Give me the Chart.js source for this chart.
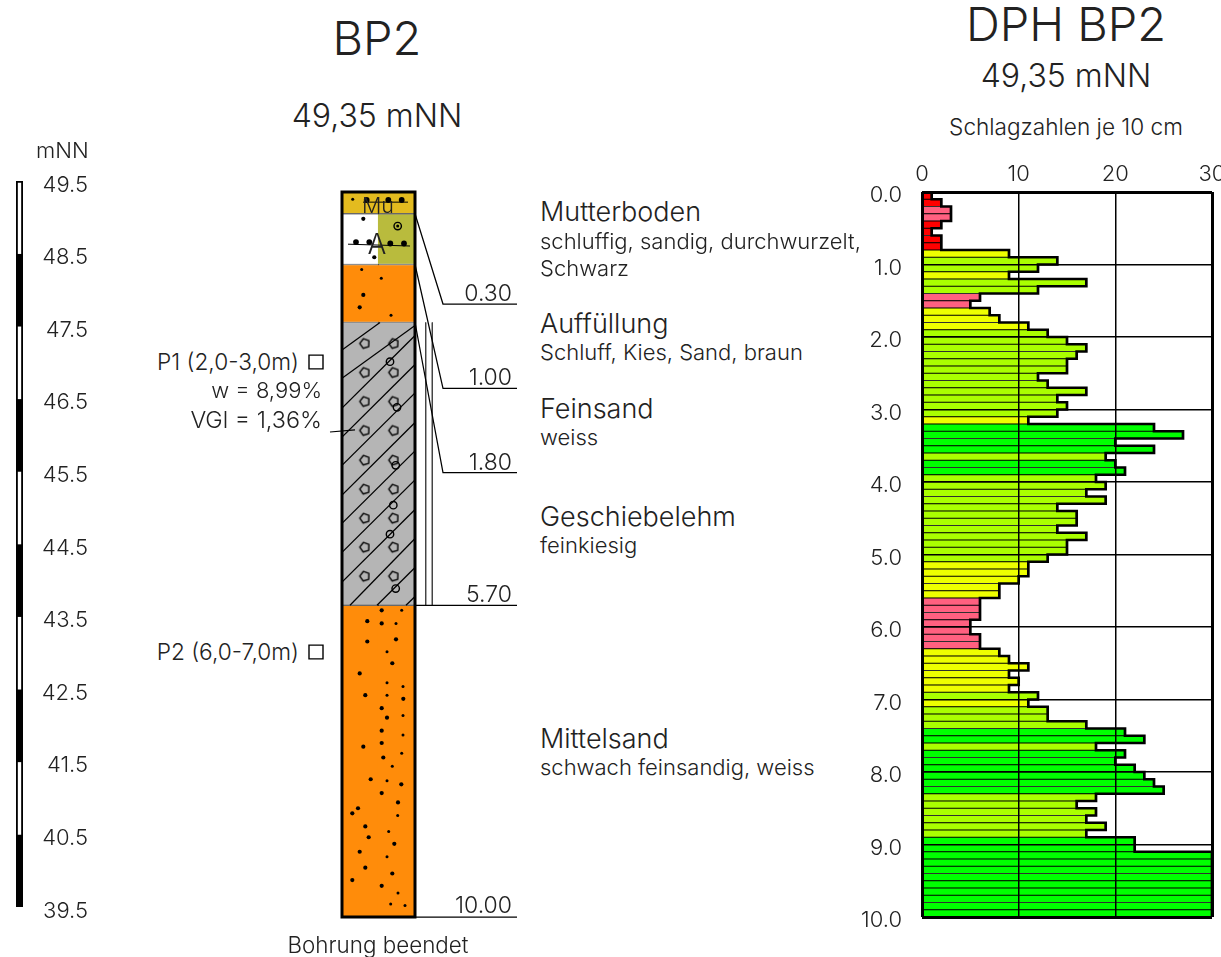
<!DOCTYPE html>
<html>
<head>
<meta charset="utf-8">
<title>BP2</title>
<script src="https://cdn.jsdelivr.net/npm/chart.js@4/dist/chart.umd.min.js"></script>
<style>
	html, body { margin: 0; padding: 0; background: #fff; overflow: hidden; width: 1221px; height: 957px; }
	canvas { position: absolute; }
	.t { position: absolute; white-space: nowrap; line-height: 1; transform: translateY(-50%); font-family: Inter, "Liberation Sans", sans-serif; font-weight: 300; color: #222; }
	.c { transform: translate(-50%, -50%); }
	.r { transform: translate(-100%, -50%); }
	.big { font-size: 27px; }
	.small { font-size: 22px; }
	.num { font-size: 23px; }
	.sub { font-size: 32px; }
	.head { font-size: 47px; }
</style>
</head>
<body>
<canvas id="ruler" width="120" height="780" style="left:0;top:160px"></canvas>
<canvas id="column" width="240" height="770" style="left:300px;top:170px"></canvas>
<canvas id="dph" width="420" height="800" style="left:820px;top:150px"></canvas>

<div class="t c head" style="left:377px;top:37px">BP2</div>
<div class="t c sub" style="left:377px;top:116px">49,35 mNN</div>
<div class="t small" style="left:36px;top:150px">mNN</div>
<div class="t c small" style="left:378px;top:945px;font-size:22.4px">Bohrung beendet</div>

<div class="t c small" style="left:378px;top:206px;font-size:21.5px">Mu</div>
<div class="t c small" style="left:377px;top:244px;font-size:28px">A</div>

<div class="t r small" style="left:299px;top:362px;font-size:22.7px">P1 (2,0-3,0m)</div>
<div class="t r small" style="left:322px;top:390px">w = 8,99%</div>
<div class="t r small" style="left:322px;top:420px;font-size:23.4px">VGl = 1,36%</div>
<div class="t r small" style="left:299px;top:652px;font-size:22.7px">P2 (6,0-7,0m)</div>

<div class="t r num" style="left:512px;top:293px">0.30</div>
<div class="t r num" style="left:512px;top:377px">1.00</div>
<div class="t r num" style="left:512px;top:462px">1.80</div>
<div class="t r num" style="left:512px;top:594px">5.70</div>
<div class="t r num" style="left:512px;top:905px">10.00</div>

<div class="t big" style="left:540px;top:211px">Mutterboden</div>
<div class="t small" style="left:540px;top:241px">schluffig, sandig, durchwurzelt,</div>
<div class="t small" style="left:540px;top:268px">Schwarz</div>
<div class="t big" style="left:540px;top:323px">Auffüllung</div>
<div class="t small" style="left:540px;top:352px">Schluff, Kies, Sand, braun</div>
<div class="t big" style="left:540px;top:408px">Feinsand</div>
<div class="t small" style="left:540px;top:437px">weiss</div>
<div class="t big" style="left:540px;top:516px">Geschiebelehm</div>
<div class="t small" style="left:540px;top:545px">feinkiesig</div>
<div class="t big" style="left:540px;top:738px">Mittelsand</div>
<div class="t small" style="left:540px;top:767px">schwach feinsandig, weiss</div>

<div class="t c head" style="left:1066px;top:23px">DPH BP2</div>
<div class="t c sub" style="left:1066px;top:76px">49,35 mNN</div>
<div class="t c small" style="left:1066px;top:127px;font-size:22.6px">Schlagzahlen je 10 cm</div>

<script>
// ---- data ----
const blowCounts = [
	1, 2, 3, 3, 2, 1, 2, 2, 9, 14,
	12, 9, 17, 12, 6, 5, 7, 8, 11, 13,
	15, 17, 16, 15, 15, 12, 13, 17, 14, 15,
	14, 11, 24, 27, 20, 24, 19, 20, 21, 18,
	19, 17, 19, 14, 16, 16, 14, 17, 15, 15,
	13, 11, 11, 10, 8, 8, 6, 6, 6, 5,
	5, 6, 6, 8, 9, 11, 9, 10, 9, 12,
	11, 13, 13, 17, 21, 23, 18, 21, 20, 22,
	23, 24, 25, 18, 16, 18, 17, 19, 17, 22,
	22, 30, 30, 30, 30, 30, 30, 30, 30, 30
];
const blowTicks = [0, 10, 20, 30];
const depthTicks = [0, 1, 2, 3, 4, 5, 6, 7, 8, 9, 10];

const elevationTicks = [49.5, 48.5, 47.5, 46.5, 45.5, 44.5, 43.5, 42.5, 41.5, 40.5, 39.5];

const strataDepths = [0, 0.3, 1, 1.8, 5.7, 10];
const leaderEnds = [1.545, 2.708, 3.87, 5.7, 10];

// column points: [position across the column, depth in m]
const pebbleColumns = [22.7, 51.7];
const pebbleDepths = [2.09, 2.49, 2.89, 3.29, 3.70, 4.10, 4.50, 4.90, 5.30];
const openCircles = [[48, 2.34], [55, 2.97], [53.7, 3.77], [51.3, 4.32], [48, 4.72], [53.7, 5.47], [55.7, 0.47]];
const hatchLines = [
	[[0, 2.18], [38, 1.8]], [[0, 2.57], [77, 1.8]], [[0, 2.98], [73, 1.98]], [[0, 3.38], [73, 2.38]],
	[[0, 3.77], [73, 2.77]], [[0, 4.18], [73, 3.18]], [[0, 4.57], [73, 3.57]], [[0, 4.97], [73, 3.97]],
	[[0, 5.38], [73, 4.38]], [[8, 5.7], [73, 4.78]], [[35, 5.7], [73, 5.18]], [[64, 5.7], [73, 5.58]]
];
const bigDots = [
	[46.3, 0.11], [59.7, 0.11], [24.7, 0.11],
	[14, 0.69], [27.3, 0.69], [48.3, 0.71], [62, 0.71]
];
const mediumDots = [
	[21.3, 0.37], [32.3, 0.90], [21.3, 1.42], [17.7, 1.59],
	[39.7, 5.77], [25.3, 5.92], [39.7, 5.95], [25.3, 6.20], [54, 6.17], [50.3, 6.50], [17.7, 6.64],
	[23.3, 6.94], [61.3, 6.99], [39.7, 7.12], [45, 7.25], [39.7, 7.43], [39.7, 7.60], [21.3, 7.65],
	[41.3, 7.80], [28.7, 8.10], [59.3, 8.17], [39.7, 8.29], [56, 8.42], [16, 8.50], [10.3, 8.57],
	[23.3, 8.75], [26.7, 8.90], [52.3, 8.99], [17.7, 9.10], [23.3, 9.32], [50.3, 9.40], [10.3, 9.49], [39.7, 9.57]
];
const smallDots = [
	[10.7, 0.10], [19.7, 1.07], [39.3, 1.19], [49, 1.70], [55.7, 0.47],
	[59.7, 5.77], [54, 5.95], [45, 6.34], [45, 6.77], [61, 6.82], [45, 6.94], [61, 7.22], [61, 7.49],
	[59.7, 7.74], [50.3, 7.92], [45, 8.12], [55.7, 8.60], [46.7, 8.82], [45, 9.17], [56, 9.67], [48.7, 9.82], [63, 9.84]
];
const rootLines = [[[21, 0.14], [66, 0.14]], [[6, 0.72], [68, 0.745]]];
// sample markers left of the column, drawn as closed outlines: points outside the chart area are skipped
const sampleBoxes = [
	[[-33, 2.25], [-19, 2.25], [-19, 2.44], [-33, 2.44], [-33, 2.25], [-19, 2.25]],
	[[-33, 6.25], [-19, 6.25], [-19, 6.44], [-33, 6.44], [-33, 6.25], [-19, 6.25]]
];

const FONT = 'Inter, "Liberation Sans", sans-serif';
const INK = '#222';

// Chart.js centres tick labels on the tick; here they sit a few px lower
const lowLabels = (scaleId, ticks, text, right, dy, size) => ({
	id: 'lowLabels',
	afterDraw(chart) {
		const { ctx } = chart;
		const scale = chart.scales[scaleId];
		ctx.save();
		ctx.font = '300 ' + size + 'px ' + FONT;
		ctx.fillStyle = INK;
		ctx.textAlign = 'right';
		ctx.textBaseline = 'middle';
		ticks.forEach(v => ctx.fillText(text(v), right, scale.getPixelForValue(v) + dy));
		ctx.restore();
	}
});

// ---- elevation ruler ----
(() => {
	const segments = elevationTicks.slice(0, -1).map((top, i) => ({
		data: [[elevationTicks[i + 1], top]],
		backgroundColor: i % 2 ? '#000' : '#fff',
		borderWidth: 0,
		order: 2
	}));
	new Chart(document.getElementById('ruler'), {
		type: 'bar',
		data: {
			labels: ['mNN'],
			datasets: [...segments, {
				data: [[39.5, 49.5]],
				backgroundColor: 'rgba(0,0,0,0)',
				borderColor: '#000',
				borderWidth: 1.5,
				borderSkipped: false,
				order: 1
			}]
		},
		options: {
			responsive: false,
			animation: false,
			layout: { padding: { left: 16, right: 97, top: 21, bottom: 33 } },
			datasets: { bar: { grouped: false, categoryPercentage: 1, barPercentage: 1 } },
			plugins: { legend: { display: false }, tooltip: { enabled: false } },
			scales: {
				x: { display: false },
				y: { display: false, min: 39.5, max: 49.5 }
			}
		},
		plugins: [lowLabels('y', elevationTicks, v => v.toFixed(1), 88, 4, 22)]
	});
})();

// ---- borehole column ----
(() => {
	const strataFill = [
		['#e3bb1f', '#e3bb1f'],
		['#ffffff', '#b9bb3d'],
		['#ff8c0a', '#ff8c0a'],
		['#b5b5b5', '#b5b5b5'],
		['#ff8c0a', '#ff8c0a']
	];
	const strata = strataFill.map((fill, i) => ({
		xAxisID: 'xCat',
		data: [[strataDepths[i], strataDepths[i + 1]], [strataDepths[i], strataDepths[i + 1]]],
		backgroundColor: fill,
		borderColor: '#000',
		borderWidth: { top: 0.7, bottom: 0.7, left: 0, right: 0 },
		borderSkipped: false,
		order: 9
	}));

	const asPoints = list => list.map(p => ({ x: p[0], y: p[1] }));
	const line = (points, width, color) => ({
		type: 'scatter',
		xAxisID: 'xCol',
		data: asPoints(points),
		showLine: true,
		pointRadius: 0,
		borderColor: color || '#000',
		borderWidth: width,
		clip: false,
		order: 4
	});
	const dots = (points, radius) => ({
		type: 'scatter',
		xAxisID: 'xCol',
		data: asPoints(points),
		pointRadius: radius,
		pointBackgroundColor: '#000',
		pointBorderWidth: 0,
		clip: false,
		order: 3
	});

	// small outlined pentagon used as the gravel symbol
	const pebble = document.createElement('canvas');
	pebble.width = pebble.height = 14;
	const p = pebble.getContext('2d');
	p.strokeStyle = '#000';
	p.lineWidth = 1.4;
	p.lineJoin = 'round';
	p.beginPath();
	for (let i = 0; i < 5; i++) {
		const a = -0.6 + i * Math.PI * 2 / 5;
		p[i ? 'lineTo' : 'moveTo'](7 + 5 * Math.cos(a), 7 + 5 * Math.sin(a));
	}
	p.closePath();
	p.stroke();

	const pebblePoints = [];
	pebbleDepths.forEach(d => pebbleColumns.forEach(x => pebblePoints.push([x, d])));

	// right to left, so the points beyond the scale are not trimmed
	const leaders = [
		[[175, leaderEnds[0]], [101, leaderEnds[0]], [73, strataDepths[1]]],
		[[175, leaderEnds[1]], [101, leaderEnds[1]], [73, strataDepths[2]]],
		[[175, leaderEnds[2]], [101, leaderEnds[2]], [73, strataDepths[3]]],
		[[73, leaderEnds[3]], [175, leaderEnds[3]]],
		[[73, leaderEnds[4]], [175, leaderEnds[4]]]
	];

	new Chart(document.getElementById('column'), {
		type: 'bar',
		data: {
			labels: ['links', 'rechts'],
			datasets: [
				{ ...line([[0, 0], [73, 0], [73, 10], [0, 10], [0, 0], [73, 0]], 3), order: 0 },
				...strata,
				...hatchLines.map(l => ({ ...line(l, 1.25), clip: true, order: 6 })),
				...rootLines.map(l => line(l, 1)),
				...leaders.map(l => line(l, 1.25)),
				...sampleBoxes.map(l => line(l, 1.4)),
				line([[83.7, 1.8], [83.7, 5.7]], 1, '#444'),
				line([[90.3, 1.8], [90.3, 5.7]], 1, '#444'),
				line([[-12, 3.31], [13, 3.28]], 1.2),
				{
					type: 'scatter',
					xAxisID: 'xCol',
					data: asPoints(pebblePoints),
					pointStyle: pebble,
					order: 5
				},
				{
					type: 'scatter',
					xAxisID: 'xCol',
					data: asPoints(openCircles),
					pointRadius: 3.7,
					pointBackgroundColor: 'rgba(0,0,0,0)',
					pointBorderColor: '#000',
					pointBorderWidth: 1.4,
					order: 3
				},
				dots(bigDots, 2.9),
				dots(mediumDots, 2.1),
				dots(smallDots, 1.5)
			]
		},
		options: {
			responsive: false,
			animation: false,
			layout: { padding: { left: 42, right: 125, top: 22, bottom: 23 } },
			datasets: { bar: { grouped: false, categoryPercentage: 1, barPercentage: 1.04 } },
			plugins: { legend: { display: false }, tooltip: { enabled: false } },
			scales: {
				xCat: { type: 'category', axis: 'x', display: false },
				xCol: { type: 'linear', axis: 'x', display: false, offset: false, min: 0, max: 73 },
				y: { display: false, reverse: true, offset: false, min: 0, max: 10 }
			}
		}
	});
})();

// ---- DPH blow count profile ----
(() => {
	const barColor = v => {
		if (v <= 2) return '#ff0000';
		if (v <= 6) return '#ff6080';
		if (v <= 11) return '#eeff00';
		if (v <= 19) return '#aaff00';
		return '#00ff00';
	};
	const bars = blowCounts.map((v, i) => ({ x: v, y: (i + 0.5) / 10 }));
	// outer stepped contour of the profile
	const contour = [{ x: 0, y: 0 }];
	blowCounts.forEach((v, i) => {
		contour.push({ x: v, y: i / 10 }, { x: v, y: (i + 1) / 10 });
	});

	const edge = ctx => (ctx.index === 0 || ctx.index === ctx.scale.ticks.length - 1) ? 3 : 1.5;

	new Chart(document.getElementById('dph'), {
		type: 'bar',
		data: {
			datasets: [
				{
					type: 'scatter',
					data: contour,
					showLine: true,
					pointRadius: 0,
					borderColor: '#000',
					borderWidth: 2.7,
					order: 1
				},
				{
					type: 'bar',
					indexAxis: 'y',
					data: bars,
					backgroundColor: blowCounts.map(barColor),
					borderColor: '#000',
					borderWidth: { top: 0.9, bottom: 0.9, left: 0, right: 0 },
					borderSkipped: false,
					categoryPercentage: 1,
					barPercentage: 1,
					order: 2
				}
			]
		},
		options: {
			responsive: false,
			animation: false,
			layout: { padding: { left: 0, right: 28, top: 0, bottom: 33 } },
			plugins: { legend: { display: false }, tooltip: { enabled: false } },
			scales: {
				x: {
					type: 'linear',
					position: 'top',
					offset: false,
					min: 0,
					max: 30,
					afterFit: s => { s.height = 42; },
					afterBuildTicks: s => { s.ticks = blowTicks.map(v => ({ value: v })); },
					ticks: { color: INK, font: { family: FONT, size: 22, weight: 300 }, padding: 4, maxRotation: 0, callback: v => String(v) },
					border: { display: false },
					grid: { z: 1, offset: false, color: '#000', lineWidth: edge, drawTicks: false }
				},
				y: {
					type: 'linear',
					reverse: true,
					offset: false,
					min: 0,
					max: 10,
					afterFit: s => { s.width = 102; },
					afterBuildTicks: s => { s.ticks = depthTicks.map(v => ({ value: v })); },
					ticks: { display: false },
					border: { display: false },
					grid: { z: 1, offset: false, color: '#000', lineWidth: edge, drawTicks: false }
				}
			}
		},
		plugins: [lowLabels('y', depthTicks, v => v.toFixed(1), 82, 3.5, 22)]
	});
})();
</script>
</body>
</html>
